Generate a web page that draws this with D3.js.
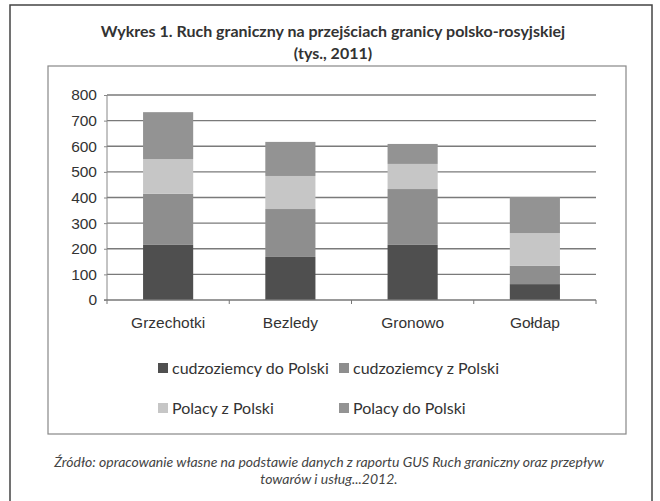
<!DOCTYPE html>
<meta charset="utf-8">
<style>
body { margin: 0; background: #fff; }
svg { font-family: Lato, "Open Sans", sans-serif; }
.axis path { display: none; }
.axis text { font-size: 15.5px; fill: #333; }
.grid line { stroke: #7a7a7a; stroke-width: 1.3px; }
</style>
<body>
<div id="chart"></div>
<script src="https://cdn.jsdelivr.net/npm/d3@7"></script>
<script>
var categories = ["Grzechotki", "Bezledy", "Gronowo", "Gołdap"];
var seriesNames = ["cudzoziemcy do Polski", "cudzoziemcy z Polski", "Polacy z Polski", "Polacy do Polski"];
var cudzDo = [215, 168, 215, 62];
var cudzZ = [200, 187, 218, 71];
var polZ = [135, 129, 98, 128];
var polDo = [183, 133, 78, 141];
var yTicks = [0, 100, 200, 300, 400, 500, 600, 700, 800];
var colors = ["#4f4f4f", "#8e8e8e", "#c6c6c6", "#939393"];

var W = 660, H = 501;
var svg = d3.select("#chart").append("svg").attr("width", W).attr("height", H);

// outer frame and inner chart box
svg.append("rect").attr("x", 10).attr("y", 5).attr("width", 642).attr("height", 500)
    .attr("fill", "none").attr("stroke", "#444").attr("stroke-width", 1.5);
svg.append("rect").attr("x", 48).attr("y", 66).attr("width", 578).attr("height", 368)
    .attr("fill", "none").attr("stroke", "#888").attr("stroke-width", 1.2);

svg.append("text").attr("x", 333).attr("y", 37).attr("text-anchor", "middle")
    .style("font-size", "16px").style("font-weight", "bold").attr("fill", "#333")
    .text("Wykres 1. Ruch graniczny na przejściach granicy polsko-rosyjskiej");
svg.append("text").attr("x", 333).attr("y", 59).attr("text-anchor", "middle")
    .style("font-size", "16px").style("font-weight", "bold").attr("fill", "#333")
    .text("(tys., 2011)");

var data = categories.map(function(c, i) {
    var o = { cat: c };
    o[seriesNames[0]] = cudzDo[i];
    o[seriesNames[1]] = cudzZ[i];
    o[seriesNames[2]] = polZ[i];
    o[seriesNames[3]] = polDo[i];
    return o;
});

var x = d3.scaleBand().domain(categories).range([107, 596]).paddingInner(0.59).paddingOuter(0.295);
var y = d3.scaleLinear().domain([0, 800]).range([300, 95]);

var g = svg.append("g");
g.append("g").attr("class", "grid").selectAll("line").data(yTicks.slice(1)).enter().append("line")
    .attr("x1", 107).attr("x2", 596).attr("y1", function(d) { return y(d); }).attr("y2", function(d) { return y(d); });

var layers = d3.stack().keys(seriesNames)(data);
g.selectAll(".layer").data(layers).enter().append("g")
    .attr("fill", function(d, i) { return colors[i]; })
    .selectAll("rect").data(function(d) { return d; }).enter().append("rect")
    .attr("x", function(d) { return x(d.data.cat); })
    .attr("y", function(d) { return y(d[1]); })
    .attr("height", function(d) { return y(d[0]) - y(d[1]); })
    .attr("width", x.bandwidth());

// axes
g.append("line").attr("x1", 107).attr("x2", 107).attr("y1", 95).attr("y2", 300).attr("stroke", "#888");
g.append("line").attr("x1", 104).attr("x2", 596).attr("y1", 300).attr("y2", 300).attr("stroke", "#777").attr("stroke-width", 1.3);
var band = (596 - 107) / categories.length;
g.selectAll(".xt").data(d3.range(categories.length + 1)).enter().append("line")
    .attr("x1", function(i) { return 107 + i * band; }).attr("x2", function(i) { return 107 + i * band; })
    .attr("y1", 300).attr("y2", 304).attr("stroke", "#777");

var yAxis = g.append("g").attr("class", "axis").attr("transform", "translate(107,0)")
    .call(d3.axisLeft(y).tickValues(yTicks).tickSize(3).tickPadding(7));
yAxis.selectAll("line").attr("stroke", "#888");

var xAxis = g.append("g").attr("class", "axis").attr("transform", "translate(0,300)")
    .call(d3.axisBottom(x).tickSize(0).tickPadding(17));

// legend
var legendPos = [[158, 368], [339, 368], [158, 408], [339, 408]];
var leg = svg.selectAll(".leg").data(seriesNames).enter().append("g")
    .attr("transform", function(d, i) { return "translate(" + legendPos[i][0] + "," + legendPos[i][1] + ")"; });
leg.append("rect").attr("x", 0).attr("y", -5).attr("width", 10).attr("height", 10)
    .attr("fill", function(d, i) { return colors[i]; });
leg.append("text").attr("x", 14).attr("y", 5.5).style("font-size", "16px").attr("fill", "#333")
    .text(function(d) { return d; });

svg.append("text").attr("x", 329).attr("y", 467).attr("text-anchor", "middle")
    .style("font-size", "14px").style("font-style", "italic").attr("fill", "#444")
    .text("Źródło: opracowanie własne na podstawie danych z raportu GUS Ruch graniczny oraz przepływ");
svg.append("text").attr("x", 329).attr("y", 484).attr("text-anchor", "middle")
    .style("font-size", "14px").style("font-style", "italic").attr("fill", "#444")
    .text("towarów i usług...2012.");
</script>
</body>
